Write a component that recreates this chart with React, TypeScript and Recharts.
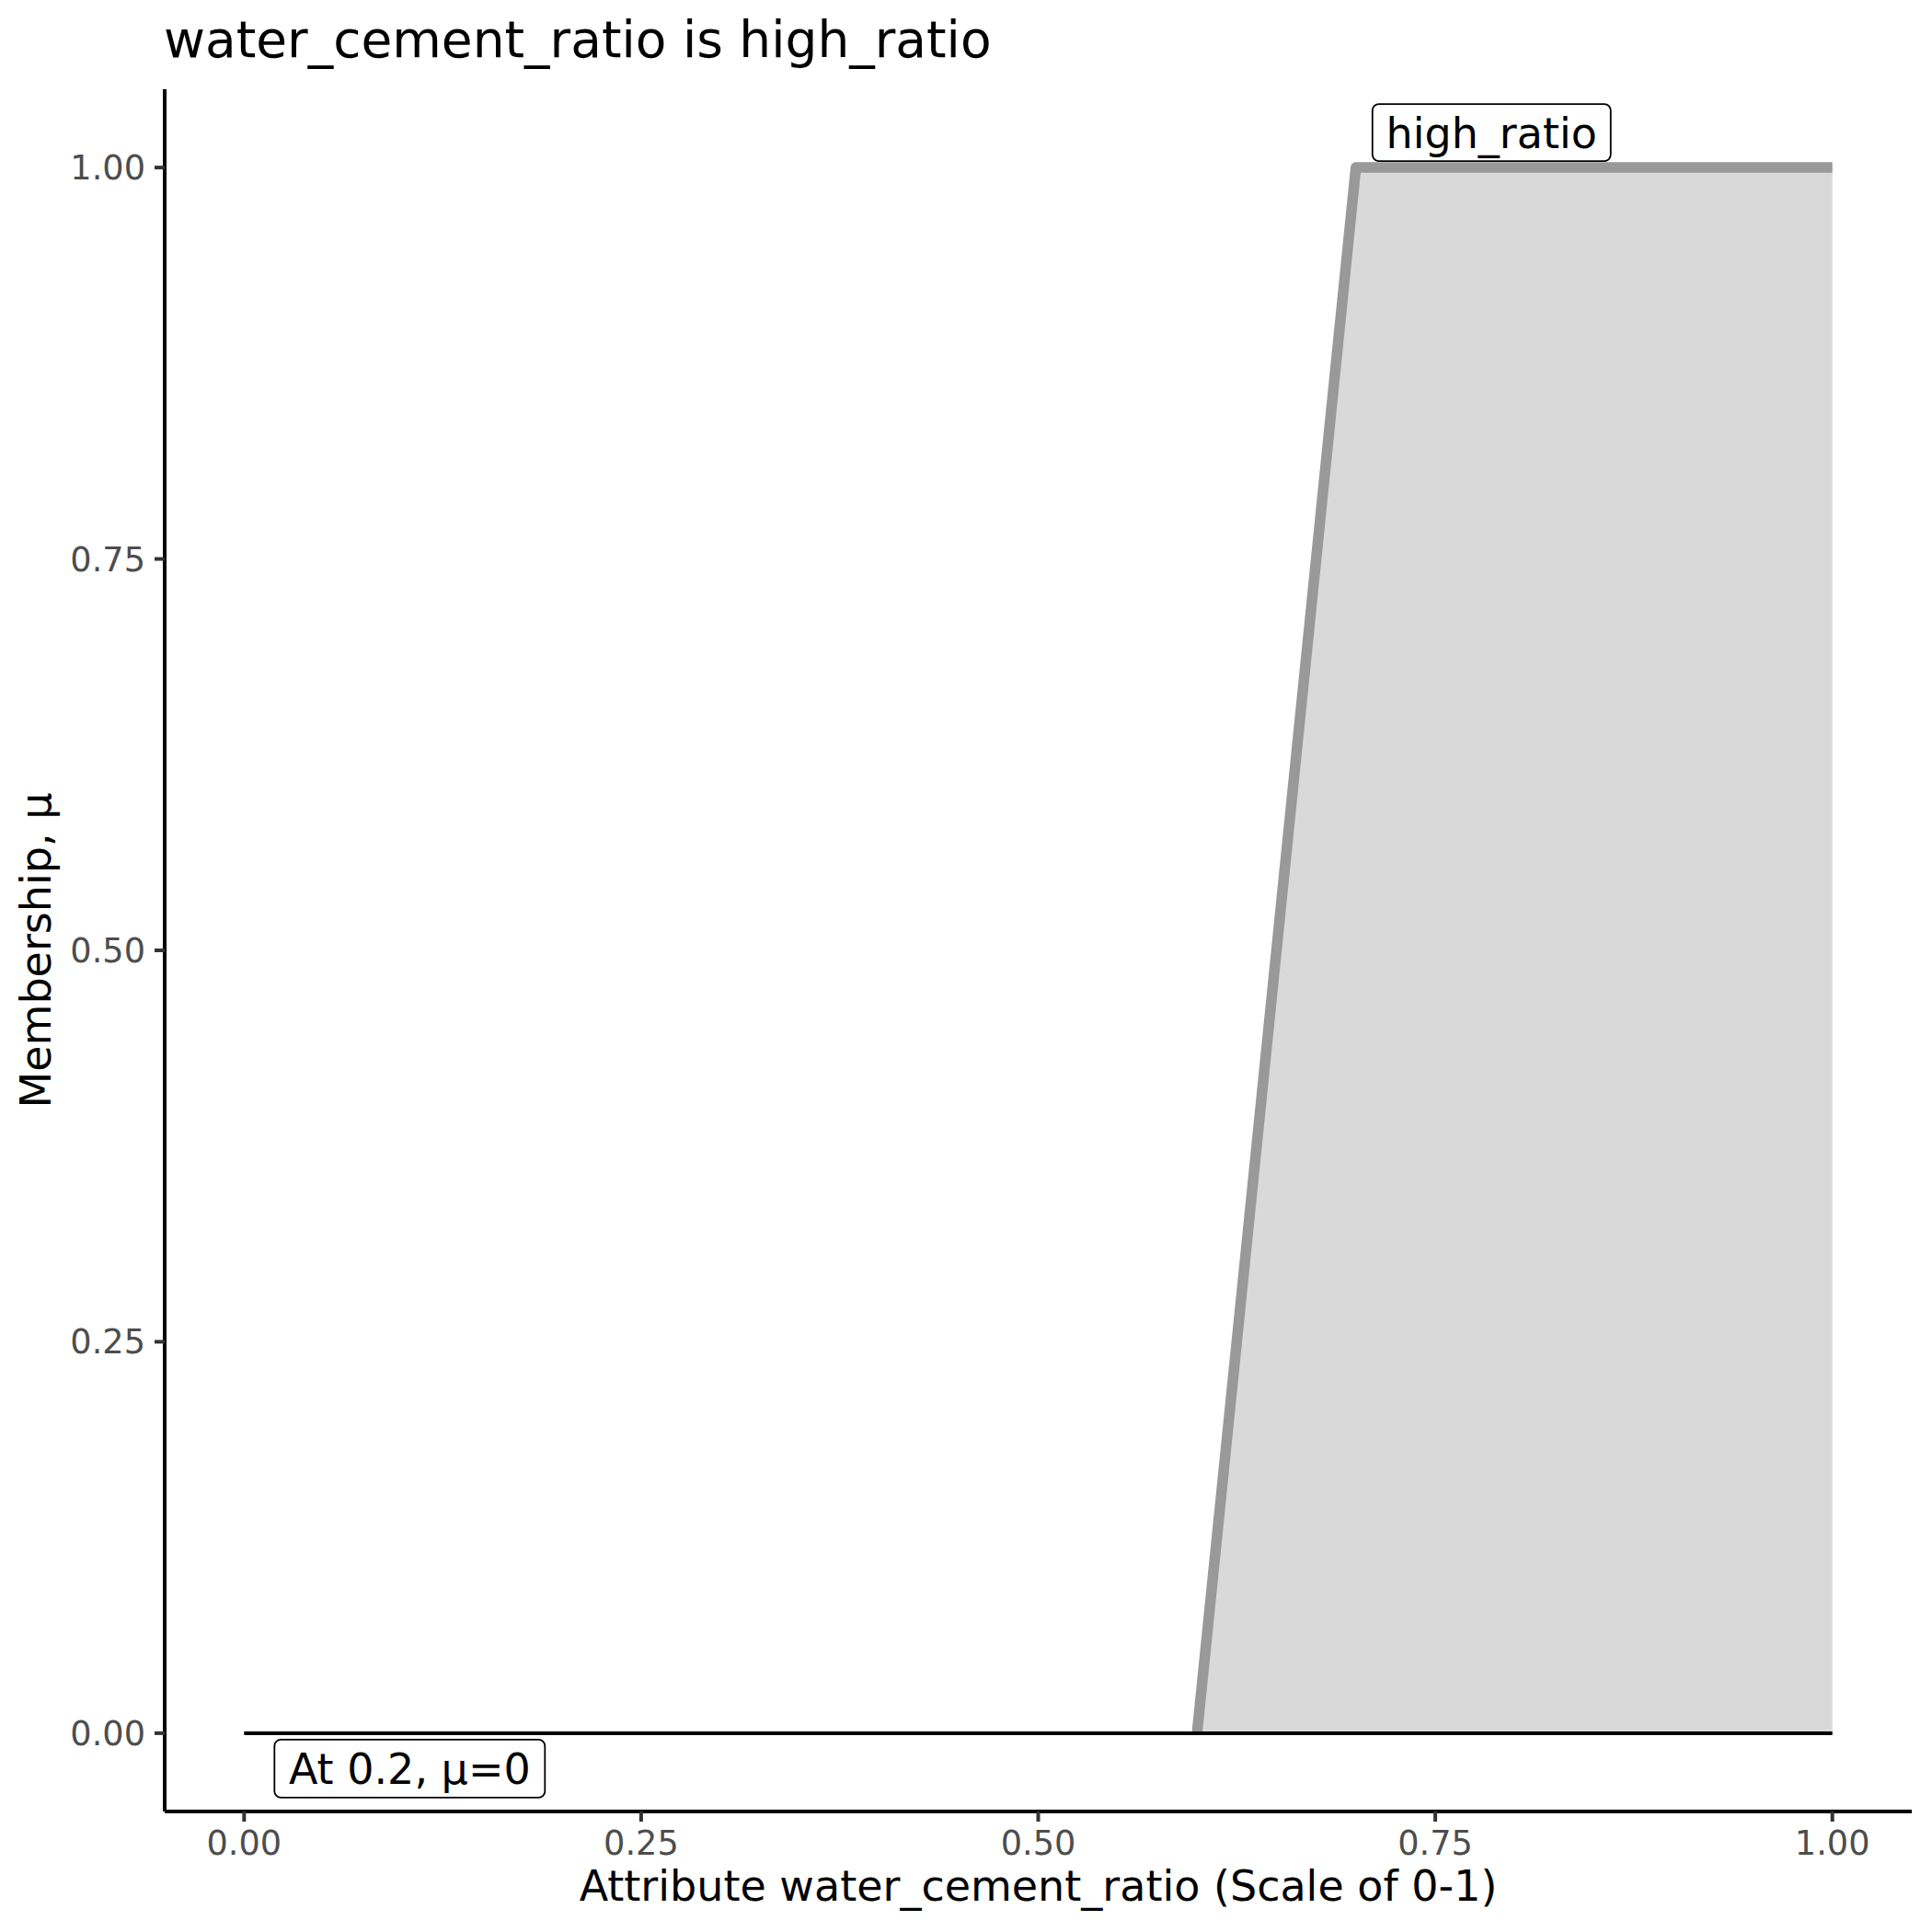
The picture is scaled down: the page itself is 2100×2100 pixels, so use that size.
import React from 'react'
import { ComposedChart, Area, Line, XAxis, YAxis, ReferenceDot } from 'recharts'

// membership function of "high_ratio"
const xValues = [0, 0.6, 0.7, 1]
const membership = [null, 0, 1, 1]
const evaluated = [0, 0, 0, 0]

const xTicks = [0, 0.25, 0.5, 0.75, 1]
const yTicks = [0, 0.25, 0.5, 0.75, 1]

const labelX = [0.7, 0]
const labelY = [1, 0]
const labelText = ['high_ratio', 'At 0.2, μ=0']

const FONT = "'DejaVu Sans', sans-serif"

const chartData = xValues.map((x, i) => ({
  x,
  mu: membership[i],
  evaluated: evaluated[i],
}))

// box sizes and offsets from the anchor point, per label
const boxLayout = [
  { w: 259, h: 62, dx: 18, dy: -69 },
  { w: 294, h: 63, dx: 33, dy: 7 },
]

const makeBox = (i: number) => (props: any) => {
  const { cx, cy } = props
  const { w, h, dx, dy } = boxLayout[i]
  const left = cx + dx
  const top = cy + dy
  return (
    <g>
      <rect x={left} y={top} width={w} height={h} rx={7} ry={7} fill="#ffffff" stroke="#000000" strokeWidth={1.8} />
      <text x={left + w / 2} y={top + 48} textAnchor="middle" fontSize={46} fontFamily={FONT} fill="#000000">
        {labelText[i]}
      </text>
    </g>
  )
}

const XTitle = ({ viewBox }: any) => (
  <text
    x={viewBox.x + viewBox.width / 2}
    y={viewBox.y + viewBox.height - 34}
    textAnchor="middle"
    fontSize={46}
    fontFamily={FONT}
    fill="#000000"
  >
    Attribute water_cement_ratio (Scale of 0-1)
  </text>
)

const YTitle = ({ viewBox }: any) => {
  const x = 55
  const y = viewBox.y + viewBox.height / 2
  return (
    <text
      x={x}
      y={y}
      transform={`rotate(-90 ${x} ${y})`}
      textAnchor="middle"
      fontSize={46}
      fontFamily={FONT}
      fill="#000000"
    >
      Membership, μ
    </text>
  )
}

const fmt = (v: number) => v.toFixed(2)

export default function App() {
  return (
    <div style={{ position: 'absolute', left: 0, top: 0, width: 2100, height: 2100, background: '#ffffff' }}>
      <svg width={2100} height={110} style={{ position: 'absolute', left: 0, top: 0 }}>
        <text x={178} y={62} fontSize={55} fontFamily={FONT} fill="#000000">
          water_cement_ratio is high_ratio
        </text>
      </svg>
      <ComposedChart
        width={2100}
        height={2100}
        data={chartData}
        margin={{ top: 97, right: 22, bottom: 0, left: 0 }}
        style={{ fontFamily: FONT }}
      >
        <XAxis
          dataKey="x"
          type="number"
          domain={[-0.05, 1.05]}
          ticks={xTicks}
          interval={0}
          tickFormatter={fmt}
          height={131}
          tickSize={11}
          tickMargin={10}
          axisLine={{ stroke: '#000000', strokeWidth: 4 }}
          tickLine={{ stroke: '#333333', strokeWidth: 4 }}
          tick={{ fill: '#4D4D4D', fontSize: 36.7, fontFamily: FONT }}
          label={<XTitle />}
          allowDataOverflow
        />
        <YAxis
          type="number"
          domain={[-0.05, 1.05]}
          ticks={yTicks}
          interval={0}
          tickFormatter={fmt}
          width={179}
          tickSize={11}
          tickMargin={10}
          axisLine={{ stroke: '#000000', strokeWidth: 4 }}
          tickLine={{ stroke: '#333333', strokeWidth: 4 }}
          tick={{ fill: '#4D4D4D', fontSize: 36.7, fontFamily: FONT }}
          label={<YTitle />}
          allowDataOverflow
        />
        <Area
          type="linear"
          dataKey="mu"
          baseValue={0}
          stroke="none"
          fill="#D9D9D9"
          fillOpacity={1}
          isAnimationActive={false}
        />
        <Line
          type="linear"
          dataKey="mu"
          stroke="#999999"
          strokeWidth={11.5}
          strokeLinejoin="round"
          strokeLinecap="butt"
          dot={false}
          activeDot={false}
          isAnimationActive={false}
        />
        <Line
          type="linear"
          dataKey="evaluated"
          stroke="#000000"
          strokeWidth={4}
          strokeLinecap="butt"
          dot={false}
          activeDot={false}
          isAnimationActive={false}
        />
        {labelText.map((t, i) => (
          <ReferenceDot key={t} x={labelX[i]} y={labelY[i]} r={0} shape={makeBox(i)} ifOverflow="visible" />
        ))}
      </ComposedChart>
    </div>
  )
}
